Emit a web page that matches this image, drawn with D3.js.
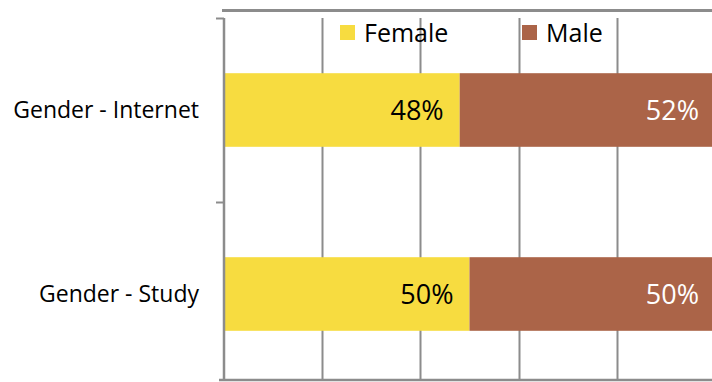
<!DOCTYPE html>
<html>
<head>
<meta charset="utf-8">
<script src="https://cdnjs.cloudflare.com/ajax/libs/d3/7.8.5/d3.min.js"></script>
<style>
  html, body { margin: 0; padding: 0; background: #fff; overflow: hidden; }
  svg { display: block; font-family: "Open Sans", sans-serif; }
</style>
</head>
<body>
<script>
// data
var categories = ["Gender - Internet", "Gender - Study"];
var seriesNames = ["Female", "Male"];
var female = [0.48, 0.50];
var male = [0.52, 0.50];
var gridTicks = [0, 0.2, 0.4, 0.6, 0.8, 1.0];

var colors = { Female: "#f7dc40", Male: "#ab6448" };
var lineColor = "#8c8c8c";

var W = 712, H = 382;
var plot = { left: 224, right: 715, top: 18, bottom: 386, axisY: 380 };

var svg = d3.select("body").append("svg")
    .attr("width", W)
    .attr("height", H);

var x = d3.scaleLinear().domain([0, 1]).range([plot.left, plot.right]);

var y = d3.scaleBand()
    .domain(categories)
    .range([plot.top, plot.bottom])
    .paddingInner(0.6)
    .paddingOuter(0.3);

// stack the two series
var rows = categories.map(function(c, i) {
  return { cat: c, Female: female[i], Male: male[i] };
});
var stacked = d3.stack().keys(seriesNames)(rows);

// top border line (cropped chart frame)
svg.append("line")
    .attr("x1", plot.left - 2).attr("x2", W)
    .attr("y1", 10.5).attr("y2", 10.5)
    .attr("stroke", lineColor)
    .attr("stroke-width", 3);

// vertical gridlines
svg.append("g")
    .selectAll("line")
    .data(gridTicks.slice(1))
    .enter().append("line")
    .attr("x1", function(d) { return Math.round(x(d)) + 0.5; })
    .attr("x2", function(d) { return Math.round(x(d)) + 0.5; })
    .attr("y1", plot.top)
    .attr("y2", plot.axisY)
    .attr("stroke", lineColor)
    .attr("stroke-width", 2);

// bars
var layers = svg.append("g").selectAll("g")
    .data(stacked)
    .enter().append("g")
    .attr("fill", function(d) { return colors[d.key]; });

layers.selectAll("rect")
    .data(function(d) { return d; })
    .enter().append("rect")
    .attr("x", function(d) { return x(d[0]); })
    .attr("width", function(d) { return x(d[1]) - x(d[0]); })
    .attr("y", function(d) { return y(d.data.cat); })
    .attr("height", y.bandwidth());

// value labels, inside end
layers.selectAll("text")
    .data(function(d) { return d.map(function(v) { return { v: v, key: d.key }; }); })
    .enter().append("text")
    .attr("x", function(d) { return x(d.v[1]) - 16; })
    .attr("y", function(d) { return y(d.v.data.cat) + y.bandwidth() / 2; })
    .attr("dy", "0.36em")
    .attr("text-anchor", "end")
    .attr("font-size", 27)
    .attr("fill", function(d) { return d.key === "Female" ? "#000" : "#fff"; })
    .text(function(d) { return d3.format(".0%")(d.v[1] - d.v[0]); });

// left axis with ticks between categories
var leftAxis = svg.append("g");
leftAxis.append("line")
    .attr("x1", plot.left).attr("x2", plot.left)
    .attr("y1", plot.top).attr("y2", plot.axisY)
    .attr("stroke", lineColor)
    .attr("stroke-width", 2.5);

var boundaries = [plot.top, y(categories[1]) - y.step() * y.paddingInner() / 2];
leftAxis.selectAll("line.tick")
    .data(boundaries)
    .enter().append("line")
    .attr("class", "tick")
    .attr("x1", plot.left - 8).attr("x2", plot.left)
    .attr("y1", function(d) { return Math.round(d) + 0.5; })
    .attr("y2", function(d) { return Math.round(d) + 0.5; })
    .attr("stroke", lineColor)
    .attr("stroke-width", 2);

// category labels
svg.append("g").selectAll("text")
    .data(categories)
    .enter().append("text")
    .attr("x", 199)
    .attr("y", function(d) { return y(d) + y.bandwidth() / 2; })
    .attr("dy", "0.36em")
    .attr("text-anchor", "end")
    .attr("font-size", 23)
    .attr("fill", "#000")
    .text(function(d) { return d; });

// bottom axis
svg.append("line")
    .attr("x1", plot.left - 5).attr("x2", W)
    .attr("y1", plot.axisY).attr("y2", plot.axisY)
    .attr("stroke", lineColor)
    .attr("stroke-width", 2.5);

// legend
var legendX = [340, 522];
var legend = svg.append("g").selectAll("g")
    .data(seriesNames)
    .enter().append("g")
    .attr("transform", function(d, i) { return "translate(" + legendX[i] + ",25)"; });

legend.append("rect")
    .attr("width", 15).attr("height", 15)
    .attr("fill", function(d) { return colors[d]; });

legend.append("text")
    .attr("x", 24)
    .attr("y", 8)
    .attr("dy", "0.36em")
    .attr("font-size", 25)
    .attr("fill", "#000")
    .text(function(d) { return d; });
</script>
</body>
</html>
